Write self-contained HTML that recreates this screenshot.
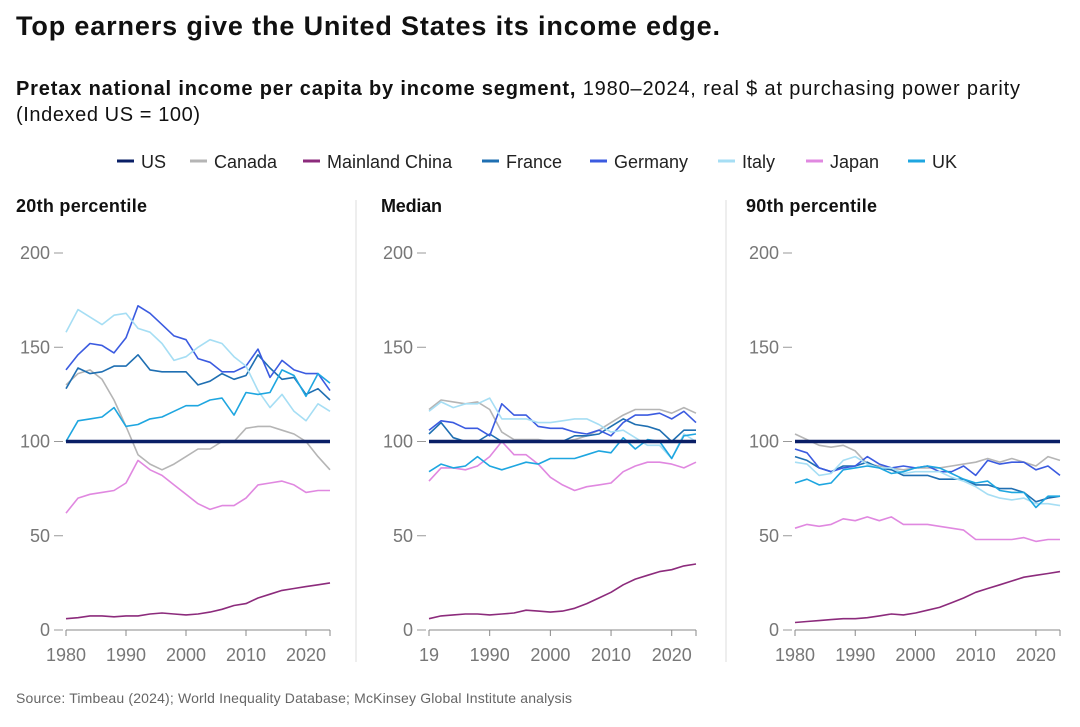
<!DOCTYPE html>
<html><head><meta charset="utf-8"><style>
body{margin:0;background:#fff;font-family:"Liberation Sans",sans-serif}
svg{display:block}
</style></head><body>
<svg id="c" width="1080" height="727" viewBox="0 0 1080 727">
<text x="16" y="35" font-size="27" font-weight="bold" fill="#111" textLength="704" lengthAdjust="spacing">Top earners give the United States its income edge.</text>
<text x="16" y="95" font-size="20" fill="#111" textLength="1004" lengthAdjust="spacing"><tspan font-weight="bold">Pretax national income per capita by income segment,</tspan> 1980–2024, real $ at purchasing power parity</text>
<text x="16" y="121" font-size="20" fill="#111" textLength="184" lengthAdjust="spacing">(Indexed US = 100)</text>
<g id="legend"></g>
<line x1="356" y1="200" x2="356" y2="662" stroke="#ddd"/>
<line x1="726" y1="200" x2="726" y2="662" stroke="#ddd"/>
<g id="panels"></g>
<text x="16" y="703" font-size="14" fill="#666" textLength="556" lengthAdjust="spacing">Source: Timbeau (2024); World Inequality Database; McKinsey Global Institute analysis</text>
</svg>
<script>
const years=[1980,1982,1984,1986,1988,1990,1992,1994,1996,1998,2000,2002,2004,2006,2008,2010,2012,2014,2016,2018,2020,2022,2024];
const seriesNames=["US","Canada","Mainland China","France","Germany","Italy","Japan","UK"];
const colors=["#0a1f66","#b5b5b5","#8c2b7c","#1f6fb2","#3b5be0","#a6def4","#e088e0","#1ea6e0"];
const p20Canada=[130,136,138,133,122,108,93,88,85,88,92,96,96,100,100,107,108,108,106,104,100,92,85];
const p20China=[6,6.5,7.5,7.5,7,7.5,7.5,8.5,9,8.5,8,8.5,9.5,11,13,14,17,19,21,22,23,24,25];
const p20France=[128,139,136,137,140,140,146,138,137,137,137,130,132,136,133,135,146,139,133,134,125,128,122];
const p20Germany=[138,146,152,151,147,155,172,168,162,156,154,144,142,137,137,140,149,134,143,138,136,136,127];
const p20Italy=[158,170,166,162,167,168,160,158,152,143,145,150,154,152,145,140,127,118,125,116,111,120,116];
const p20Japan=[62,70,72,73,74,78,90,85,82,77,72,67,64,66,66,70,77,78,79,77,73,74,74];
const p20UK=[100,111,112,113,118,108,109,112,113,116,119,119,122,123,114,126,125,126,138,135,124,136,131];
const medCanada=[117,122,121,120,121,117,105,101,101,101,100,100,101,103,106,110,114,117,117,117,115,118,115];
const medChina=[6,7.5,8,8.5,8.5,8,8.5,9,10.5,10,9.5,10,11.5,14,17,20,24,27,29,31,32,34,35];
const medFrance=[104,110,102,100,100,104,100,100,100,100,100,100,103,103,104,108,112,109,108,106,100,106,106];
const medGermany=[106,111,110,107,107,103,120,114,114,108,107,107,105,104,106,103,110,114,114,115,112,116,110];
const medItaly=[116,121,118,120,120,123,112,112,112,110,110,111,112,112,109,105,106,102,98,98,91,104,100];
const medJapan=[79,86,86,85,87,92,100,93,93,88,81,77,74,76,77,78,84,87,89,89,88,86,89];
const medUK=[84,88,86,87,92,87,85,87,89,88,91,91,91,93,95,94,102,96,101,100,91,103,104];
const p90Canada=[104,101,98,97,98,95,88,87,86,85,86,86,86,87,88,89,91,89,91,89,87,92,90];
const p90China=[4,4.5,5,5.5,6,6,6.5,7.5,8.5,8,9,10.5,12,14.5,17,20,22,24,26,28,29,30,31];
const p90France=[92,90,86,84,87,87,89,86,85,82,82,82,80,80,80,77,77,75,75,73,68,70,71];
const p90Germany=[96,94,86,84,86,87,92,88,86,87,86,87,84,84,87,82,90,88,89,89,85,87,82];
const p90Italy=[89,88,82,83,90,92,88,86,86,83,84,84,84,81,79,76,72,70,69,70,67,67,66];
const p90Japan=[54,56,55,56,59,58,60,58,60,56,56,56,55,54,53,48,48,48,48,49,47,48,48];
const p90UK=[78,80,77,78,85,86,87,86,83,84,86,87,86,83,80,78,79,74,73,73,65,71,71];
const usIndex=years.map(()=>100);
const yTicks=[0,50,100,150,200];
const xTickYears=[1980,1990,2000,2010,2020];
const panelTitles=["20th percentile","Median","90th percentile"];
const panelData=[
 [usIndex,p20Canada,p20China,p20France,p20Germany,p20Italy,p20Japan,p20UK],
 [usIndex,medCanada,medChina,medFrance,medGermany,medItaly,medJapan,medUK],
 [usIndex,p90Canada,p90China,p90France,p90Germany,p90Italy,p90Japan,p90UK]];
const NS="http://www.w3.org/2000/svg";
function mk(t,a,p){const e=document.createElementNS(NS,t);for(const k in a)e.setAttribute(k,a[k]);p.appendChild(e);return e;}
const lg=document.getElementById('legend');
const lgX=[117,190,303,482,590,718,806,908];
seriesNames.forEach((n,i)=>{
 const g=mk('g',{},lg);
 
 
 mk('line',{x1:lgX[i],x2:lgX[i]+17,y1:161,y2:161,stroke:colors[i],'stroke-width':3},g);
 const t=mk('text',{x:lgX[i]+24,y:168,'font-size':18,fill:'#222'},g);t.textContent=n;
});
const panels=document.getElementById('panels');
const X0=[66,429,795],X1=[330,696,1060],yZero=630,yHundred=441.5;
const titleLens=[131,61,131];
panelData.forEach((ser,p)=>{
 const g=mk('g',{},panels);
 
 
 const xs=y=>X0[p]+(y-1980)/(2024-1980)*(X1[p]-X0[p]);
 const ys=v=>yZero-(v/100)*(yZero-yHundred);
 const tt=mk('text',{x:p==0?16:(p==1?381:746),y:212,'font-size':18,'font-weight':'bold',fill:'#111',textLength:titleLens[p],lengthAdjust:'spacing'},g);tt.textContent=panelTitles[p];
 
 
 yTicks.forEach(v=>{
  const t=mk('text',{x:X0[p]-16,y:ys(v)+6,'font-size':18,fill:'#777','text-anchor':'end'},g);t.textContent=v;
  
  
  mk('line',{x1:X0[p]-12,x2:X0[p]-3,y1:ys(v),y2:ys(v),stroke:'#999'},g);
 });
 mk('line',{x1:X0[p],x2:X1[p],y1:yZero,y2:yZero,stroke:'#888'},g);
 xTickYears.concat([2024]).forEach(y=>mk('line',{x1:xs(y),x2:xs(y),y1:yZero,y2:yZero+6,stroke:'#888'},g));
 xTickYears.forEach(y=>{
  const t=mk('text',{x:xs(y),y:661,'font-size':18,fill:'#777','text-anchor':'middle'},g);
  t.textContent=(p==1&&y==1980)?'19':y;
  
  
 });
 [1,2,3,4,5,6,7,0].forEach(i=>{
  const d=ser[i].map((v,k)=>(k?'L':'M')+xs(years[k]).toFixed(1)+','+ys(v).toFixed(1)).join('');
  const path=mk('path',{d:d,fill:'none',stroke:colors[i],'stroke-width':i==0?3.5:1.6,'stroke-linejoin':'round'},g);
  
  
 });
});
</script>
</body></html>
